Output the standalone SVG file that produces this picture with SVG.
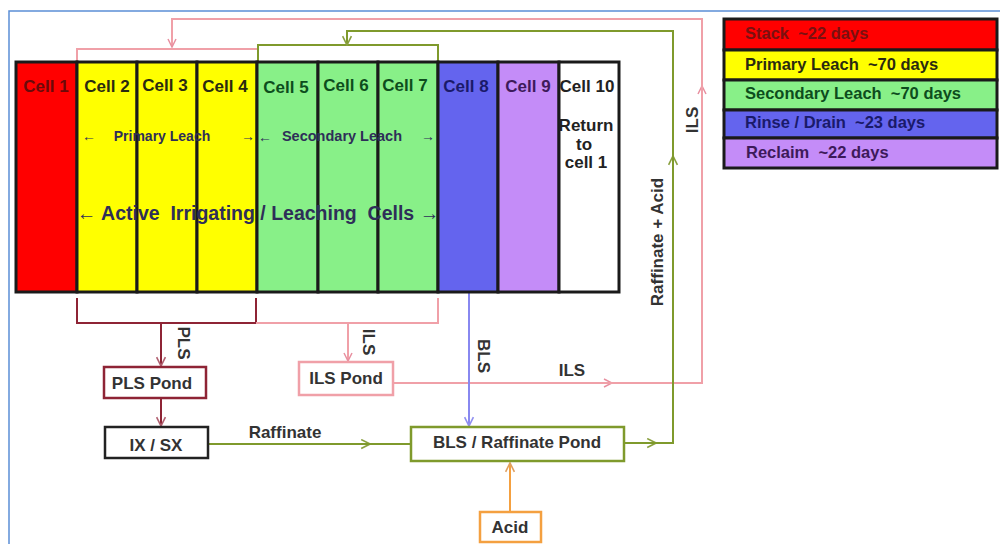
<svg xmlns="http://www.w3.org/2000/svg" width="1000" height="544" viewBox="0 0 1000 544">
<style>
text{font-family:"Liberation Sans",Arial,sans-serif;font-weight:bold}
.cell{stroke:#1a1a1a;stroke-width:3}
.lbl{font-size:17px;text-anchor:middle}
.box{fill:#fff;stroke-width:2.5}
.bt{font-size:17px;fill:#333;text-anchor:middle;dominant-baseline:central}
.ln{fill:none;stroke-width:2}
.pk{stroke:#f0a0a8}
.dr{stroke:#8e2435}
.ol{stroke:#7f9a2c}
.bl{stroke:#8888f0}
.or{stroke:#f4a040}
.lg{font-size:16.5px}
</style>
<defs>
<marker id="aPk" viewBox="0 0 10 10" refX="9" refY="5" markerWidth="10" markerHeight="10" markerUnits="userSpaceOnUse" orient="auto"><path d="M1,1 L9,5 L1,9" fill="none" stroke="#e890a0" stroke-width="1.5"/></marker>
<marker id="aDr" viewBox="0 0 10 10" refX="9" refY="5" markerWidth="11" markerHeight="11" markerUnits="userSpaceOnUse" orient="auto"><path d="M1,1 L9,5 L1,9" fill="none" stroke="#b06070" stroke-width="1.5"/></marker>
<marker id="aOl" viewBox="0 0 10 10" refX="9" refY="5" markerWidth="11" markerHeight="11" markerUnits="userSpaceOnUse" orient="auto"><path d="M1,1 L9,5 L1,9" fill="none" stroke="#8aa040" stroke-width="1.5"/></marker>
<marker id="aBl" viewBox="0 0 10 10" refX="9" refY="5" markerWidth="11" markerHeight="11" markerUnits="userSpaceOnUse" orient="auto"><path d="M1,1 L9,5 L1,9" fill="none" stroke="#9090f0" stroke-width="1.5"/></marker>
<marker id="aOr" viewBox="0 0 10 10" refX="9" refY="5" markerWidth="11" markerHeight="11" markerUnits="userSpaceOnUse" orient="auto"><path d="M1,1 L9,5 L1,9" fill="none" stroke="#e0a060" stroke-width="1.5"/></marker>
</defs>
<rect width="1000" height="544" fill="#fff"/>
<path d="M9,544 V11 H1000" fill="none" stroke="#5b8ed6" stroke-width="1.5"/>

<g id="connectors">
  <path class="ln pk" d="M77,62 V49 H257"/>
  <path class="ln ol" d="M258,62 V45 H438 V62"/>
  <path class="ln pk" d="M393,383 H612" marker-end="url(#aPk)"/>
  <path class="ln pk" d="M606,383 H702 V86" marker-end="url(#aPk)"/>
  <path class="ln pk" d="M702,92 V19 H172 V47" marker-end="url(#aPk)"/>
  <path class="ln ol" d="M624,443 H656" marker-end="url(#aOl)"/>
  <path class="ln ol" d="M650,443 H673 V156" marker-end="url(#aOl)"/>
  <path class="ln ol" d="M673,162 V31 H347 V45" marker-end="url(#aOl)"/>
  <path class="ln dr" d="M77,298 V323 H256 V298" stroke-width="2.5"/>
  <path class="ln pk" d="M256,323 H438 V298"/>
  <path class="ln dr" d="M161,323 V366" marker-end="url(#aDr)"/>
  <path class="ln pk" d="M348,323 V361" marker-end="url(#aPk)"/>
  <path class="ln dr" d="M161,398 V426" marker-end="url(#aDr)"/>
  <path class="ln bl" d="M469,292 V426" marker-end="url(#aBl)"/>
  <path class="ln ol" d="M208,444 H370" marker-end="url(#aOl)"/>
  <path class="ln ol" d="M364,444 H411"/>
  <path class="ln or" d="M510,512 V463" marker-end="url(#aOr)"/>
  <text class="bt" transform="translate(183,343) rotate(90)" font-size="16">PLS</text>
  <text class="bt" transform="translate(368,342) rotate(90)" font-size="16">ILS</text>
  <text class="bt" transform="translate(483,356) rotate(90)" font-size="16">BLS</text>
  <text class="bt" x="572" y="370" font-size="17">ILS</text>
  <text class="bt" x="285" y="432">Raffinate</text>
  <text class="bt" transform="translate(692,120) rotate(-90)" font-size="15">ILS</text>
  <text class="bt" transform="translate(657,242) rotate(-90)">Raffinate + Acid</text>
</g>

<g id="cells">
  <g id="cell1"><rect class="cell" x="16" y="62" width="61" height="230" fill="#ff0000"/><text class="lbl" x="46" y="92" fill="#6a0a0a" font-size="15.5">Cell 1</text></g>
  <g id="cell2"><rect class="cell" x="77" y="62" width="60" height="230" fill="#ffff00"/><text class="lbl" x="107" y="92" fill="#2a2a10">Cell 2</text></g>
  <g id="cell3"><rect class="cell" x="137" y="62" width="60" height="230" fill="#ffff00"/><text class="lbl" x="165" y="91" fill="#2a2a10">Cell 3</text></g>
  <g id="cell4"><rect class="cell" x="197" y="62" width="60" height="230" fill="#ffff00"/><text class="lbl" x="225" y="92" fill="#2a2a10">Cell 4</text></g>
  <g id="cell5"><rect class="cell" x="257" y="62" width="61" height="230" fill="#88f088"/><text class="lbl" x="286" y="93" fill="#0d4d1d">Cell 5</text></g>
  <g id="cell6"><rect class="cell" x="318" y="62" width="60" height="230" fill="#88f088"/><text class="lbl" x="346" y="91" fill="#0d4d1d">Cell 6</text></g>
  <g id="cell7"><rect class="cell" x="378" y="62" width="60" height="230" fill="#88f088"/><text class="lbl" x="405" y="91" fill="#0d4d1d">Cell 7</text></g>
  <g id="cell8"><rect class="cell" x="438" y="62" width="60" height="230" fill="#6464ee"/><text class="lbl" x="466" y="92" fill="#1a1a6a" font-size="16">Cell 8</text></g>
  <g id="cell9"><rect class="cell" x="498" y="62" width="61" height="230" fill="#c48cf8"/><text class="lbl" x="528" y="92" fill="#3d1a5a" font-size="16">Cell 9</text></g>
  <g id="cell10"><rect class="cell" x="559" y="62" width="60" height="230" fill="#fff"/>
    <text class="lbl" x="587" y="92" fill="#222">Cell 10</text>
    <text class="lbl" x="586" y="131" fill="#222">Return</text>
    <text class="lbl" x="584" y="150" fill="#222">to</text>
    <text class="lbl" x="586" y="168" fill="#222">cell 1</text></g>
  <g id="leach-labels" fill="#2e2e58">
    <text x="82" y="141" font-size="14" font-weight="normal">←</text>
    <text x="162" y="141" font-size="14" text-anchor="middle">Primary Leach</text>
    <text x="241" y="141" font-size="14" font-weight="normal">→</text>
    <text x="258" y="142" font-size="14" font-weight="normal">←</text>
    <text x="342" y="141" font-size="14.5" text-anchor="middle">Secondary Leach</text>
    <text x="421" y="141" font-size="14" font-weight="normal">→</text>
    <text x="258" y="220" font-size="19.5" text-anchor="middle" xml:space="preserve">← Active  Irrigating / Leaching  Cells →</text>
  </g>
</g>

<g id="legend">
  <rect x="724" y="19" width="273" height="31" fill="#ff0000" stroke="#1a1a1a" stroke-width="3"/>
  <rect x="724" y="50" width="273" height="30" fill="#ffff00" stroke="#1a1a1a" stroke-width="3"/>
  <rect x="724" y="80" width="273" height="30" fill="#88f088" stroke="#1a1a1a" stroke-width="3"/>
  <rect x="724" y="110" width="273" height="28" fill="#6464ee" stroke="#1a1a1a" stroke-width="3"/>
  <rect x="724" y="138" width="273" height="30" fill="#c48cf8" stroke="#1a1a1a" stroke-width="3"/>
  <text class="lg" x="745" y="39" fill="#7a1010" xml:space="preserve">Stack  ~22 days</text>
  <text class="lg" x="745" y="70" fill="#2a2a10" xml:space="preserve">Primary Leach  ~70 days</text>
  <text class="lg" x="745" y="99" fill="#0d4d1d" xml:space="preserve">Secondary Leach  ~70 days</text>
  <text class="lg" x="745" y="128" fill="#1a1a6a" xml:space="preserve">Rinse / Drain  ~23 days</text>
  <text class="lg" x="746" y="158" fill="#3d1a5a" xml:space="preserve">Reclaim  ~22 days</text>
</g>

<g id="pls-pond"><rect class="box" x="104" y="367" width="102" height="31" stroke="#8e2435"/><text class="bt" x="152" y="383">PLS Pond</text></g>
<g id="ix-sx"><rect class="box" x="105" y="427" width="103" height="31" stroke="#222" stroke-width="3"/><text class="bt" x="156" y="445">IX / SX</text></g>
<g id="ils-pond"><rect class="box" x="299" y="362" width="94" height="33" stroke="#f0a0a8"/><text class="bt" x="346" y="378">ILS Pond</text></g>
<g id="bls-pond"><rect class="box" x="411" y="427" width="213" height="34" stroke="#7f9a2c"/><text class="bt" x="517" y="442">BLS / Raffinate Pond</text></g>
<g id="acid"><rect class="box" x="480" y="512" width="61" height="30" stroke="#f4a040"/><text class="bt" x="510" y="527">Acid</text></g>
</svg>
